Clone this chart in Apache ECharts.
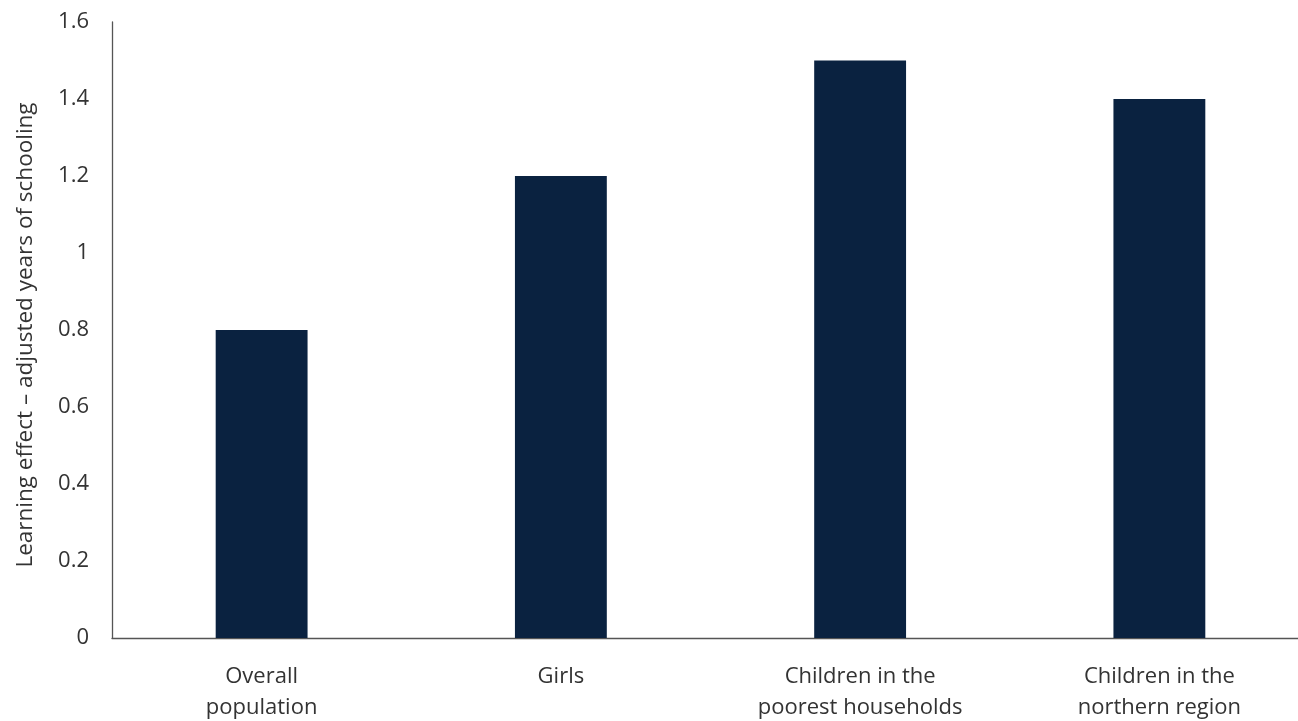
<!DOCTYPE html>
<html>
<head>
<meta charset="utf-8">
<script src="https://cdn.jsdelivr.net/npm/echarts@6/dist/echarts.min.js"></script>
<style>
html,body{margin:0;padding:0;background:#fff;}
#chart{width:1298px;height:721px;}
</style>
</head>
<body>
<div id="chart"></div>
<script>
const categories = ["Overall\npopulation", "Girls", "Children in the\npoorest households", "Children in the\nnorthern region"];
const values = [0.8, 1.2, 1.5, 1.4];
const yAxisTitle = "Learning effect – adjusted years of schooling";

const chart = echarts.init(document.getElementById('chart'));
const font = "'Open Sans', sans-serif";
chart.setOption({
  animation: false,
  grid: {left: 112, width: 1197, top: 22, height: 616, containLabel: false, outerBoundsMode: 'none'},
  xAxis: {
    type: 'category',
    data: categories,
    axisLine: {lineStyle: {color: '#555', width: 1.3}},
    axisTick: {show: false},
    axisLabel: {color: '#333', fontSize: 22, fontFamily: font, lineHeight: 31, margin: 23}
  },
  yAxis: {
    type: 'value',
    min: 0, max: 1.6, interval: 0.2,
    name: yAxisTitle,
    nameLocation: 'middle',
    nameGap: 75,
    nameRotate: 90,
    nameTextStyle: {color: '#333', fontSize: 22.5, fontFamily: font, padding: [0, 10, 0, 0]},
    axisLine: {show: true, lineStyle: {color: '#555', width: 1.3}},
    axisTick: {show: false},
    splitLine: {show: false},
    axisLabel: {color: '#333', fontSize: 22, fontFamily: font, margin: 23,
      formatter: v => String(Math.round(v*10)/10)}
  },
  series: [{
    type: 'bar',
    data: values,
    barWidth: '30.7%',
    itemStyle: {color: '#0a2240'}
  }]
});
</script>
</body>
</html>
